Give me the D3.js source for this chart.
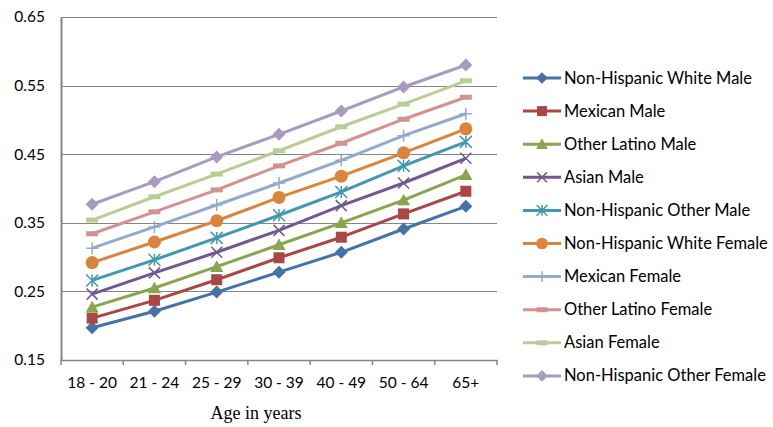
<!DOCTYPE html>
<html><head><meta charset="utf-8">
<script src="https://cdn.jsdelivr.net/npm/d3@7"></script>
<style>body{margin:0;background:#fff}svg{display:block}</style>
</head><body>
<svg id="c" width="773" height="427"></svg>
<script>
const categories = ["18 - 20","21 - 24","25 - 29","30 - 39","40 - 49","50 - 64","65+"];
const seriesNames = ["Non-Hispanic White Male","Mexican Male","Other Latino Male","Asian Male","Non-Hispanic Other Male","Non-Hispanic White Female","Mexican Female","Other Latino Female","Asian Female","Non-Hispanic Other Female"];
const nhWhiteMale    = [0.197,0.221,0.249,0.278,0.307,0.341,0.374];
const mexicanMale    = [0.211,0.237,0.267,0.299,0.329,0.363,0.396];
const otherLatinoMale= [0.227,0.255,0.286,0.318,0.350,0.383,0.420];
const asianMale      = [0.246,0.277,0.307,0.339,0.375,0.408,0.444];
const nhOtherMale    = [0.266,0.296,0.328,0.361,0.395,0.433,0.468];
const nhWhiteFemale  = [0.292,0.322,0.353,0.387,0.418,0.452,0.487];
const mexicanFemale  = [0.313,0.344,0.376,0.408,0.441,0.477,0.509];
const otherLatinoFemale=[0.334,0.366,0.398,0.433,0.466,0.501,0.533];
const asianFemale    = [0.354,0.388,0.421,0.455,0.490,0.523,0.557];
const nhOtherFemale  = [0.377,0.410,0.446,0.479,0.513,0.548,0.580];
const yTicks = [0.15,0.25,0.35,0.45,0.55,0.65];
const allValues = [nhWhiteMale,mexicanMale,otherLatinoMale,asianMale,nhOtherMale,nhWhiteFemale,mexicanFemale,otherLatinoFemale,asianFemale,nhOtherFemale];
const colors = ["#4572A7","#AA4643","#89A54E","#71588F","#4198AF","#DB843D","#93A9CF","#D19392","#B9CD96","#A99BBD"];
const markers = ["diamond","square","triangle","x","star","circle","plus","dash","dash","diamond"];

const svg = d3.select("#c");
const L=61,R=497,T=17,B=360;
const x = d3.scaleBand().domain(categories).range([L,R]);
const y = d3.scaleLinear().domain([0.15,0.65]).range([B,T]);

// gridlines
svg.append("g").selectAll("line").data(yTicks.slice(1)).join("line")
  .attr("x1",L).attr("x2",R).attr("y1",d=>Math.round(y(d))+0.5).attr("y2",d=>Math.round(y(d))+0.5)
  .attr("stroke","#868686").attr("stroke-width",1);

// y axis
const ya = svg.append("g").attr("transform",`translate(${L},0)`)
  .call(d3.axisLeft(y).tickValues(yTicks).tickFormat(d3.format(".2f")).tickSize(0).tickPadding(16));
ya.select(".domain").attr("stroke","#868686").attr("stroke-width",2);
ya.selectAll("text").attr("font-family","Lato, 'Open Sans', sans-serif").attr("font-size",15.5).attr("fill","#000");

// x axis
const xa = svg.append("g").attr("transform",`translate(0,${B})`)
  .call(d3.axisBottom(x).tickSize(0).tickPadding(17));
xa.select(".domain").attr("stroke","#868686").attr("stroke-width",1.5);
xa.selectAll("text").attr("font-family","Lato, 'Open Sans', sans-serif").attr("font-size",15.5).attr("fill","#000");
const tickPos = categories.map(c=>x(c)).concat([R]);
svg.append("g").selectAll("line").data(tickPos).join("line")
  .attr("x1",d=>d).attr("x2",d=>d).attr("y1",B).attr("y2",B+5).attr("stroke","#868686").attr("stroke-width",1.5);

svg.append("text").attr("x",256).attr("y",419).attr("text-anchor","middle")
  .attr("font-family","'Liberation Serif', 'Times New Roman', serif").attr("font-size",18).text("Age in years");

function drawMarker(g, type, cx, cy, color, scale){
  const s = scale||1;
  if(type==="diamond"){
    const r=6.5*s;
    g.append("path").attr("d",`M${cx},${cy-r}L${cx+r},${cy}L${cx},${cy+r}L${cx-r},${cy}Z`).attr("fill",color);
  } else if(type==="square"){
    const r=5.5*s;
    g.append("rect").attr("x",cx-r).attr("y",cy-r).attr("width",2*r).attr("height",2*r).attr("fill",color);
  } else if(type==="triangle"){
    const r=6.5*s;
    g.append("path").attr("d",`M${cx},${cy-r}L${cx+r},${cy+r*0.8}L${cx-r},${cy+r*0.8}Z`).attr("fill",color);
  } else if(type==="x"){
    const r=5.5*s;
    g.append("path").attr("d",`M${cx-r},${cy-r}L${cx+r},${cy+r}M${cx-r},${cy+r}L${cx+r},${cy-r}`).attr("stroke",color).attr("stroke-width",1.5).attr("fill","none");
  } else if(type==="star"){
    const r=6*s;
    g.append("path").attr("d",`M${cx-r},${cy-r}L${cx+r},${cy+r}M${cx-r},${cy+r}L${cx+r},${cy-r}M${cx},${cy-r}L${cx},${cy+r}`).attr("stroke",color).attr("stroke-width",1.5).attr("fill","none");
  } else if(type==="circle"){
    g.append("circle").attr("cx",cx).attr("cy",cy).attr("r",6.5*s).attr("fill",color);
  } else if(type==="plus"){
    const r=6*s;
    g.append("path").attr("d",`M${cx-r},${cy}L${cx+r},${cy}M${cx},${cy-r}L${cx},${cy+r}`).attr("stroke",color).attr("stroke-width",1.5).attr("fill","none");
  } else if(type==="dash"){
    g.append("rect").attr("x",cx-6*s).attr("y",cy-2.5).attr("width",12*s).attr("height",5).attr("fill",color);
  }
}

const line = d3.line().x((d,i)=>x(categories[i])+x.bandwidth()/2).y(d=>y(d));
allValues.forEach((vals,si)=>{
  const g = svg.append("g");
  g.append("path").datum(vals).attr("d",line).attr("fill","none").attr("stroke",colors[si]).attr("stroke-width",3).attr("stroke-linejoin","round");
  vals.forEach((v,i)=>drawMarker(g,markers[si],x(categories[i])+x.bandwidth()/2,y(v),colors[si]));
});

// legend
const lg = svg.append("g");
seriesNames.forEach((n,i)=>{
  const ly = 78 + i*33.1;
  const g = lg.append("g");
  g.append("line").attr("x1",523).attr("x2",561).attr("y1",ly).attr("y2",ly).attr("stroke",colors[i]).attr("stroke-width",3);
  drawMarker(g,markers[i],542,ly,colors[i],0.9);
  g.append("text").attr("x",564).attr("y",ly+5.5).attr("font-family","Lato, 'Open Sans', sans-serif").attr("font-size",16.5).text(n);
});
</script>
</body></html>
